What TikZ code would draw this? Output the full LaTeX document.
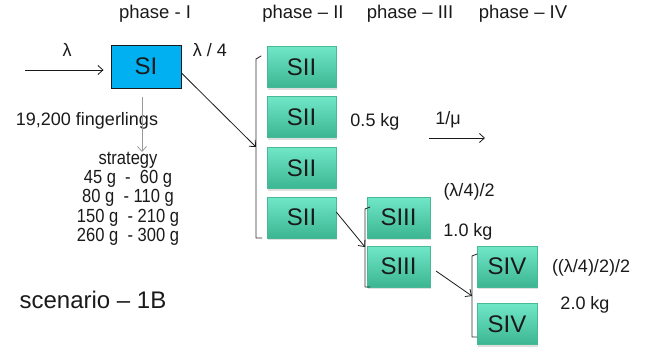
\documentclass[tikz,border=0pt]{standalone}
\usepackage{fontspec}
\setmainfont{Liberation Sans}
\newfontfamily\narrowfont[FakeStretch=0.87]{Liberation Sans}
\usetikzlibrary{arrows.meta,shadows}
\definecolor{txt}{HTML}{1A1A1A}
\definecolor{siblue}{HTML}{00B0F0}
\definecolor{gtop}{HTML}{70E8C8}
\definecolor{gbot}{HTML}{3CB592}
\definecolor{gedge}{HTML}{48B895}
\tikzset{
  lbl/.style={text=txt, inner sep=0pt, font=\fontsize{18}{20}\selectfont},
  phaselbl/.style={lbl, font=\fontsize{18.5}{20}\selectfont},
  gbox/.style={draw=gedge, line width=0.5pt, top color=gtop, bottom color=gbot,
     minimum height=41pt, inner sep=0pt, text=txt, font=\fontsize{24}{26}\selectfont,
     drop shadow={shadow xshift=1pt, shadow yshift=-2pt, opacity=0.25}},
  conn/.style={draw=txt, line width=0.8pt, -{Straight Barb[length=5pt,width=9pt]}},
  brk/.style={draw=txt!90, line width=0.9pt, line cap=round, line join=round}
}
\begin{document}
\begin{tikzpicture}[x=1pt,y=-1pt]
\useasboundingbox (0,0) rectangle (652,353);
% phase labels
\node[phaselbl] (p1) at (155,14) {phase - I};
\node[phaselbl] (p2) at (303,14) {phase – II};
\node[phaselbl] (p3) at (410,14) {phase – III};
\node[phaselbl] (p4) at (523,14) {phase – IV};
% SI
\node[draw=txt, line width=0.9pt, fill=siblue, minimum width=70pt, minimum height=43pt,
      inner sep=0pt, text=txt, font=\fontsize{24}{26}\selectfont] (si) at (146,66.5) {SI};
\coordinate (in) at (25,70);
\draw[conn, shorten >=7pt] (in) -- (si.west |- in);
\node[lbl] (lam) at (67,50) {λ};
\node[lbl] (lam4) at (210,50) {λ / 4};
\node[lbl] (fing) at (87,121) {19,200 fingerlings};
\node[text=txt, inner sep=0pt, align=center, font=\narrowfont\fontsize{19}{19.2}\selectfont,
      anchor=north] (strat) at (128,152) {strategy\\45 g\ \ - \ 60 g\\80 g\ \ - 110 g\\150 g\ \ - 210 g\\260 g\ \ - 300 g};
\draw[draw=gray!80, line width=0.8pt, -{Straight Barb[length=5pt,width=9pt]}, shorten <=9pt]
  (si.south -| 142,0) -- (strat.north -| 142,0);
\node[lbl, font=\fontsize{24}{26}\selectfont] (scen) at (93,300) {scenario – 1B};
% SII column
\node[gbox, minimum width=69pt] (s21) at (301.5,67) {SII};
\node[gbox, minimum width=69pt] (s22) at (301.5,117) {SII};
\node[gbox, minimum width=69pt] (s23) at (301.5,168) {SII};
\node[gbox, minimum width=69pt] (s24) at (301.5,217.5) {SII};
\draw[brk] (261,56) -- (256,59) -- (256,238) -- (262,238);
\coordinate (b1) at (256,147);
\draw[conn] (si.east |- 0,73) -- (b1);
\node[lbl] (kg05) at (375,122) {0.5 kg};
\node[lbl] (mu) at (448,120) {1/μ};
\coordinate (m1) at (429,138);
\coordinate (m2) at (485,138);
\draw[conn] (m1) -- (m2);
% SIII
\node[gbox, minimum width=63pt] (s31) at (398.5,217.5) {SIII};
\node[gbox, minimum width=63pt] (s32) at (398.5,266.5) {SIII};
\draw[brk] (370,207) -- (365,209) -- (365,287) -- (370,287);
\coordinate (b2) at (365,247);
\draw[conn] (s24.east |- 0,212) -- (b2);
\node[lbl] (l42) at (469,192) {(λ/4)/2};
\node[lbl] (kg10) at (468,232) {1.0 kg};
% SIV
\node[gbox, minimum width=60pt] (s41) at (507,266.5) {SIV};
\node[gbox, minimum width=60pt] (s42) at (507,324) {SIV};
\draw[brk] (477,254) -- (472,256) -- (472,337) -- (477,337);
\coordinate (b3) at (472,296);
\draw[conn, shorten <=7pt] (s32.east |- 0,267) -- (b3);
\node[lbl] (l422) at (591,268) {((λ/4)/2)/2};
\node[lbl] (kg20) at (585,305) {2.0 kg};
\end{tikzpicture}
\end{document}
